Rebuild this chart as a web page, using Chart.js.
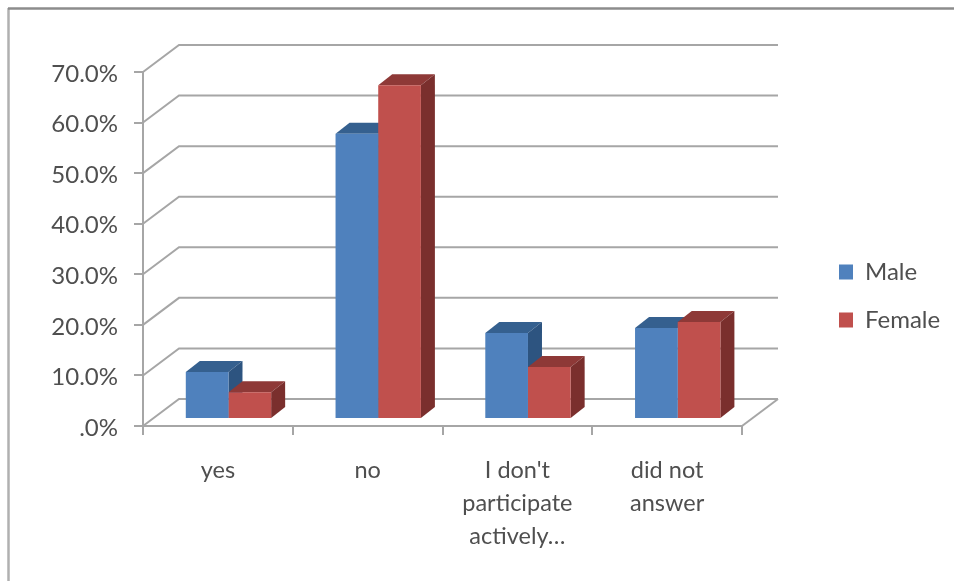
<body>
  <canvas id="bar-chart" width="954" height="581"></canvas>

  <style>
    body {
      margin: 0;
      background-color: #fff;
    }
    #bar-chart {
      display: block;
      filter: blur(0.7px);
    }
  </style>

  <script src="https://cdn.jsdelivr.net/npm/chart.js"></script>
  <script>
    // Data
    const categories = ['yes', 'no', ["I don't", 'participate', 'actively…'], ['did not', 'answer']];
    const maleValues = [9.3, 56.4, 17, 18];
    const femaleValues = [5.3, 66, 10.3, 19.2];
    const yTickLabels = ['.0%', '10.0%', '20.0%', '30.0%', '40.0%', '50.0%', '60.0%', '70.0%'];

    const lineColor = '#a6a6a6';
    const textColor = '#4f4f4f';
    const fontFamily = 'Lato';
    // Offsets of the fake 3D look
    const wallX = 36, wallY = -27;
    const barShiftX = 10.6, barShiftY = -7;
    const depthX = 14, depthY = -11;
    const faces = [
      { top: '#35608f', side: '#2d5480' },
      { top: '#8e3937', side: '#7a2f2d' }
    ];

    const polygon = (ctx, points, color) => {
      ctx.fillStyle = color;
      ctx.beginPath();
      points.forEach((p, i) => i ? ctx.lineTo(p[0], p[1]) : ctx.moveTo(p[0], p[1]));
      ctx.closePath();
      ctx.fill();
    };

    const frame3d = {
      id: 'frame3d',
      afterLayout(chart) {
        // legend sits outside the plot on the right
        const legend = chart.legend;
        const w = legend.width, h = legend.height;
        legend.left = 839 - legend.options.labels.padding;
        legend.top = 260 - legend.options.labels.padding;
        legend.right = legend.left + w;
        legend.bottom = legend.top + h;
      },
      beforeDraw(chart) {
        const ctx = chart.ctx;
        ctx.save();
        ctx.lineWidth = 2.5;
        ctx.strokeStyle = '#b0b0b0';
        ctx.beginPath();
        ctx.moveTo(8.5, 8);
        ctx.lineTo(8.5, 581);
        ctx.stroke();
        ctx.strokeStyle = '#8c8c8c';
        ctx.beginPath();
        ctx.moveTo(8, 8.5);
        ctx.lineTo(954, 8.5);
        ctx.stroke();
        ctx.restore();
      },
      beforeDatasetsDraw(chart) {
        const ctx = chart.ctx;
        const { left, right, bottom } = chart.chartArea;
        const yScale = chart.scales.y;
        // back wall lines
        ctx.save();
        ctx.strokeStyle = lineColor;
        ctx.lineWidth = 2;
        yTickLabels.forEach((label, i) => {
          const y = yScale.getPixelForValue(i * 10);
          ctx.beginPath();
          ctx.moveTo(left, y);
          ctx.lineTo(left + wallX, y + wallY);
          ctx.lineTo(right + wallX, y + wallY);
          ctx.stroke();
        });
        // right edge of the floor
        ctx.beginPath();
        ctx.moveTo(right, bottom);
        ctx.lineTo(right + wallX, bottom + wallY);
        ctx.stroke();
        ctx.restore();

        // bars are moved inside the floor, fronts are drawn by the library
        ctx.save();
        ctx.translate(barShiftX, barShiftY);
        chart.data.datasets.forEach((dataset, d) => {
          chart.getDatasetMeta(d).data.forEach(bar => {
            const x0 = bar.x - bar.width / 2, x1 = bar.x + bar.width / 2;
            polygon(ctx, [[x0, bar.y], [x1, bar.y], [x1 + depthX, bar.y + depthY], [x0 + depthX, bar.y + depthY]], faces[d].top);
            polygon(ctx, [[x1, bar.y], [x1 + depthX, bar.y + depthY], [x1 + depthX, bar.base + depthY], [x1, bar.base]], faces[d].side);
          });
        });
      },
      afterDatasetsDraw(chart) {
        chart.ctx.restore();
      }
    };

    new Chart(document.getElementById('bar-chart'), {
      type: 'bar',
      data: {
        labels: categories,
        datasets: [
          { label: 'Male', data: maleValues, backgroundColor: '#4f81bd' },
          { label: 'Female', data: femaleValues, backgroundColor: '#c0504d' }
        ]
      },
      plugins: [frame3d],
      options: {
        responsive: false,
        animation: false,
        layout: { padding: { top: 72, right: 212, bottom: 0, left: 0 } },
        datasets: { bar: { categoryPercentage: 0.57, barPercentage: 1 } },
        scales: {
          x: {
            afterFit: scale => { scale.height = 155; },
            border: { color: lineColor, width: 2 },
            grid: { drawOnChartArea: false, color: lineColor, lineWidth: 2, tickLength: 9 },
            ticks: {
              color: textColor,
              padding: 19,
              maxRotation: 0,
              font: { family: fontFamily, size: 23.5, lineHeight: 1.404 }
            }
          },
          y: {
            min: 0,
            max: 70,
            afterFit: scale => { scale.width = 143; },
            border: { color: lineColor, width: 2 },
            grid: { drawOnChartArea: false, color: lineColor, lineWidth: 2, tickLength: 9 },
            ticks: {
              stepSize: 10,
              color: textColor,
              padding: 16,
              labelOffset: 2,
              font: { family: fontFamily, size: 24 },
              callback: (value, index) => yTickLabels[index]
            }
          }
        },
        plugins: {
          tooltip: { enabled: false },
          legend: {
            position: 'chartArea',
            align: 'start',
            labels: {
              boxWidth: 14,
              boxHeight: 15,
              padding: 24,
              color: textColor,
              font: { family: fontFamily, size: 24 }
            }
          }
        }
      }
    });
  </script>
</body>
